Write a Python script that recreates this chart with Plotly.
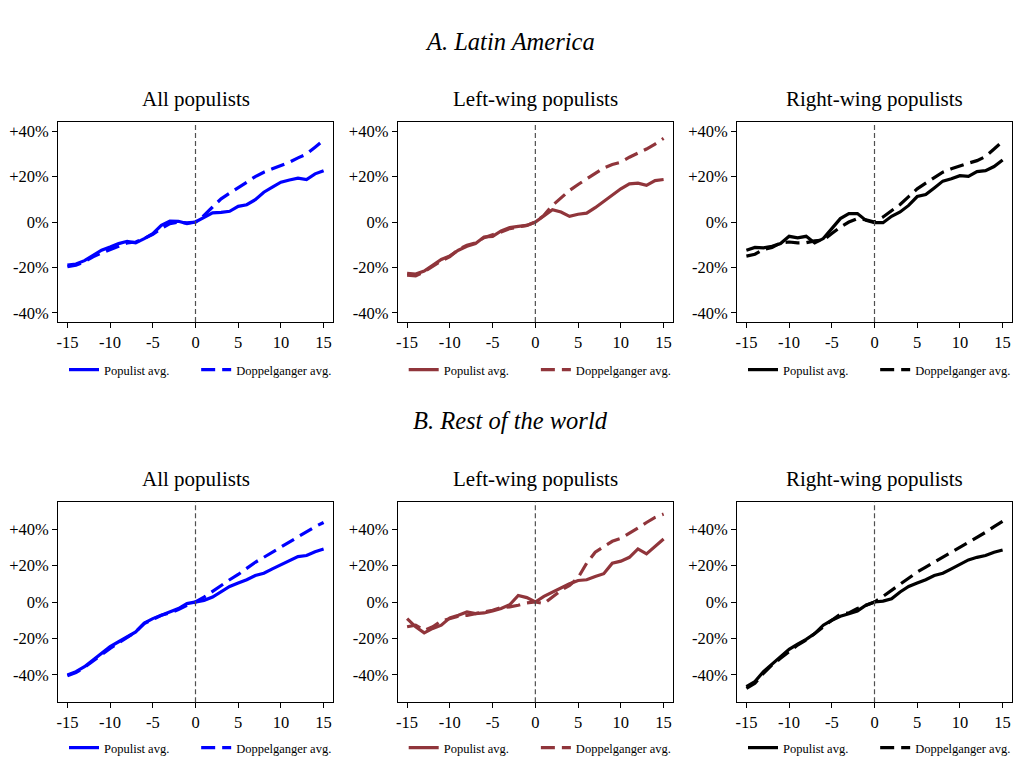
import plotly.graph_objects as go

years = list(range(-15, 16))

# Panel A: Latin America
la_all_pop = [-19, -18.5, -17, -14.6, -12.4, -11, -9.5, -8.5, -9.2, -7.3, -5.1, -1.5, 0.4, 0.3, -0.7, 0,
              2.2, 4, 4.2, 4.7, 6.9, 7.6, 9.8, 13.1, 15.3, 17.5, 18.5, 19.3, 18.7, 21.2, 22.6]
la_all_dop = [-19.7, -19, -17.5, -15.3, -13.6, -12, -10.7, -9.2, -8.8, -7.3, -5.4, -2.9, -0.7, 0, -0.4, 0,
              2.9, 6.6, 10.2, 12.7, 15.3, 17.5, 20, 21.9, 23.4, 24.8, 26.3, 28.2, 29.9, 32.9, 36]
la_left_pop = [-22.6, -22.9, -21.6, -19, -16.5, -14.9, -12.4, -10.7, -9.5, -6.6, -6.3, -3.9, -2.5, -1.9, -1.5, 0,
               2.9, 5.4, 4.4, 2.5, 3.4, 3.9, 6.3, 9.2, 12.1, 14.6, 16.8, 17.1, 16.1, 18.2, 18.7]
la_left_dop = [-23.4, -23.7, -21.9, -19.4, -17.1, -15.3, -12.1, -10.2, -9.2, -6.9, -5.8, -4.4, -2.9, -2.2, -1.5, 0,
               2.9, 7.3, 10.7, 13.9, 16.5, 19, 21.5, 23.8, 25.3, 26.3, 28.5, 30.2, 32.1, 34.3, 36.8]
la_right_pop = [-12.4, -11.2, -11.4, -10.7, -9.5, -6.3, -7, -6.3, -9.2, -7.3, -2.9, 1.5, 3.7, 3.7, 0.7, -0.3,
                -0.3, 2.5, 4.4, 7.3, 11.2, 12.1, 15, 18, 19, 20.4, 20.1, 22.2, 22.6, 24.4, 27.3]
la_right_dop = [-15, -14.2, -12.1, -11.2, -9.2, -8.8, -9.2, -9.1, -8.3, -8, -5.1, -2.2, 0, 1.5, 1, 0,
                2.2, 5.1, 7.7, 11.2, 14.6, 17.1, 19.7, 21.9, 23.4, 24.8, 25.9, 27, 28.8, 32.1, 35.5]

# Panel B: Rest of the world
rw_all_pop = [-40, -38.2, -35.5, -31.8, -28.5, -24.5, -21.8, -19.1, -16.4, -11.5, -9.1, -7.3, -5.5, -3.6, -0.9, 0,
              0.9, 2.7, 5.5, 8.5, 10.4, 12.2, 14.5, 15.8, 18.2, 20.5, 22.7, 24.9, 25.5, 27.6, 29.1]
rw_all_dop = [-40.5, -38.7, -35.8, -32.2, -29.1, -25.5, -22.4, -19.5, -16.4, -11.8, -9.6, -7.3, -6, -4.2, -1.8, 0,
              2.7, 6, 9.1, 12.2, 15.1, 18.7, 21.8, 24.5, 27.3, 30, 32.7, 35.5, 38.2, 41.3, 43.6]
rw_left_pop = [-9.1, -13.6, -16.9, -14.5, -12.7, -8.7, -7.3, -5.5, -6.4, -6, -4.9, -3.6, -1.5, 3.6, 2.4, 0,
               3.1, 5.5, 7.8, 10, 11.8, 12.2, 14, 15.5, 21.3, 22.4, 24.5, 29.1, 26.4, 30.4, 34.5]
rw_left_dop = [-13.6, -12.7, -15.5, -13.6, -10.4, -9.1, -7.8, -7.3, -6.4, -5.5, -4.5, -3.1, -2.7, -1.8, -0.5, 0,
               -0.9, 2.7, 6.4, 9.1, 13.3, 21.3, 27.3, 30.4, 33.3, 34.9, 37.6, 40.5, 43.6, 46.4, 48.2]
rw_right_pop = [-46.4, -43.6, -38.2, -34, -30, -26, -23.1, -20.5, -17.3, -12.7, -10, -7.8, -6.4, -4.9, -1.8, 0,
                0.5, 1.8, 5.5, 8.5, 10.4, 12.2, 14.5, 15.8, 18.2, 20.9, 23.1, 24.5, 25.5, 27.3, 28.5]
rw_right_dop = [-47.3, -44.5, -39.1, -34.5, -30.9, -27.3, -23.6, -20.9, -17.3, -13.3, -10, -6.7, -6, -3.6, -1.8, 0,
                3.1, 6.4, 10, 13.3, 16.4, 19.1, 21.8, 24.5, 27.3, 30, 32.7, 35.5, 38.2, 41.3, 44.2]

subplot_titles = ["All populists", "Left-wing populists", "Right-wing populists"]
series_names = ["Populist avg." + "\u00a0" * 7, "Doppelganger avg."]
x_tickvals = [-15, -10, -5, 0, 5, 10, 15]
x_ticktext = ["-15", "-10", "-5", "0", "5", "10", "15"]
y_tickvals = [-40, -20, 0, 20, 40]
y_ticktext = ["-40%", "-20%", "0%", "+20%", "+40%"]

BLUE = "rgb(0,0,255)"
CRAN = "rgb(144,53,59)"
BLACK = "rgb(0,0,0)"
FONT = "Liberation Serif"

panels = [
    (la_all_pop, la_all_dop, BLUE), (la_left_pop, la_left_dop, CRAN), (la_right_pop, la_right_dop, BLACK),
    (rw_all_pop, rw_all_dop, BLUE), (rw_left_pop, rw_left_dop, CRAN), (rw_right_pop, rw_right_dop, BLACK),
]

W, H = 1015, 760
xdom_px = [(58, 333), (397.7, 673), (737, 1012)]
ydom_px = [(122, 322), (501.7, 702.3)]
yranges = [[-44, 44], [-55, 55]]
legend_y_px = [370, 748]

fig = go.Figure()
layout = dict(
    width=W, height=H, margin=dict(l=0, r=0, t=0, b=0, autoexpand=False),
    paper_bgcolor="white", plot_bgcolor="white",
    font=dict(family=FONT, color="black"),
    showlegend=True,
)
annotations = []
shapes = []

for i, (pop, dop, col) in enumerate(panels):
    r, c = divmod(i, 3)
    n = i + 1
    xa = "x" if n == 1 else f"x{n}"
    ya = "y" if n == 1 else f"y{n}"
    lg = "legend" if n == 1 else f"legend{n}"
    fig.add_trace(go.Scatter(x=years, y=pop, mode="lines", name=series_names[0],
                             line=dict(color=col, width=3.2), xaxis=xa, yaxis=ya, legend=lg))
    fig.add_trace(go.Scatter(x=years, y=dop, mode="lines", name=series_names[1],
                             line=dict(color=col, width=3.2, dash="14px,7px"), xaxis=xa, yaxis=ya, legend=lg))
    x0, x1 = xdom_px[c]
    y0, y1 = ydom_px[r]
    axx = dict(domain=[x0 / W, x1 / W], range=[-16.1, 16.1], anchor=ya,
               tickvals=x_tickvals, ticktext=x_ticktext, ticks="outside", ticklen=5,
               tickcolor="black", showline=True, linecolor="black", linewidth=1, mirror=True,
               showgrid=False, zeroline=False, tickfont=dict(size=16.5, family=FONT, color="black"))
    axy = dict(domain=[1 - y1 / H, 1 - y0 / H], range=yranges[r], anchor=xa,
               tickvals=y_tickvals, ticktext=y_ticktext, ticks="outside", ticklen=5,
               tickcolor="black", showline=True, linecolor="black", linewidth=1, mirror=True,
               showgrid=False, zeroline=False, tickfont=dict(size=16.5, family=FONT, color="black"))
    layout["xaxis" if n == 1 else f"xaxis{n}"] = axx
    layout["yaxis" if n == 1 else f"yaxis{n}"] = axy
    layout[lg] = dict(orientation="h", x=(x0 + 6) / W, xanchor="left",
                      y=1 - legend_y_px[r] / H, yanchor="middle",
                      font=dict(size=12.5, family=FONT, color="black"),
                      bgcolor="rgba(0,0,0,0)", itemwidth=30, tracegroupgap=0)
    shapes.append(dict(type="line", xref=xa, yref=f"{ya} domain", x0=0, x1=0, y0=0, y1=1,
                       line=dict(color="rgb(80,80,80)", width=1.2, dash="5px,3px")))
    annotations.append(dict(text=subplot_titles[c], xref="paper", yref="paper",
                            x=(x0 + x1) / 2 / W, y=1 - (y0 - 23) / H, showarrow=False,
                            xanchor="center", yanchor="middle",
                            font=dict(size=21, family=FONT, color="black")))

annotations.append(dict(text="<i>A. Latin America</i>", xref="paper", yref="paper",
                        x=510 / W, y=1 - 42 / H, showarrow=False, xanchor="center", yanchor="middle",
                        font=dict(size=24.5, family=FONT, color="black")))
annotations.append(dict(text="<i>B. Rest of the world</i>", xref="paper", yref="paper",
                        x=510 / W, y=1 - 420 / H, showarrow=False, xanchor="center", yanchor="middle",
                        font=dict(size=24.5, family=FONT, color="black")))

layout["annotations"] = annotations
layout["shapes"] = shapes
fig.update_layout(**layout)
fig.write_html("out.html", post_script="document.body.style.margin='0px';",
               config={"displayModeBar": False})
